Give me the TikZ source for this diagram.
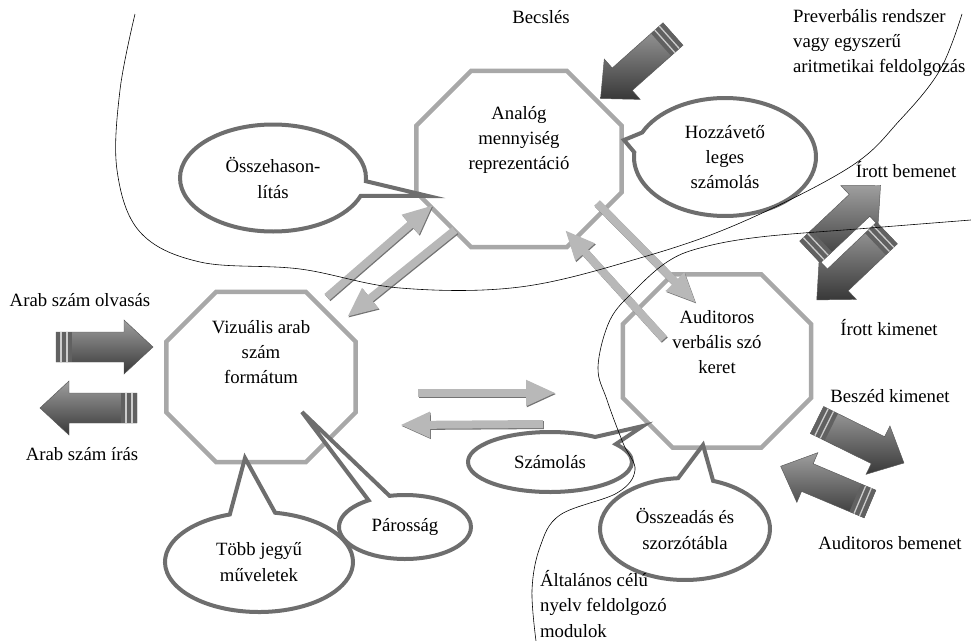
\documentclass[tikz,border=0pt]{standalone}
\usepackage{fontspec}
\setmainfont{Liberation Serif}
\usetikzlibrary{shapes.callouts,arrows.meta}
\newdimen\unitpx
\unitpx=0.03cm

\tikzset{
  module/.style={rectangle, inner sep=0pt},
  octline/.style={draw=black!34, line width=4.5\unitpx, line join=miter},
  bubble/.style={ellipse callout, draw=black!57, fill=white,
    line width=4\unitpx, inner sep=0pt, callout pointer arc=20},
  arrowbody/.style={draw=black!28, line width=8\unitpx,
    -{Triangle[width=0.72cm,length=0.9cm]}},
  arrowshadow/.style={draw=black!55, line width=8\unitpx,
    -{Triangle[width=0.72cm,length=0.9cm]},
    transform canvas={xshift=0.7pt,yshift=-0.9pt}},
  border/.style={black, line width=0.5pt},
  pics/blockarrow/.style={code={
    \shade[top color=black!38, bottom color=black!78, draw=black!65, line width=0.4pt]
      (0,-15) -- (68,-15) -- (68,-27) -- (97,0) -- (68,27) -- (68,15) -- (0,15) -- cycle;
    \fill[black!62] (0,-15) rectangle (16,15);
    \draw[black!20, line width=1.3\unitpx] (5,-15) -- (5,15) (11,-15) -- (11,15);
  }}
}

\begin{document}
\begin{tikzpicture}[x=0.03cm, y=-0.03cm,
    every node/.style={font=\fontsize{16}{21.5}\selectfont, align=center}]
  \useasboundingbox (0,0) rectangle (971,641);
  % Modules
  \node[module, minimum width=205\unitpx, minimum height=176\unitpx] (analog) at (519,159) {};
  \node[module, minimum width=189\unitpx, minimum height=170\unitpx] (vizual) at (261,377) {};
  \node[module, minimum width=188\unitpx, minimum height=173\unitpx] (audit) at (717,361) {};
  \foreach \n/\c in {analog/55, vizual/50, audit/50}
    \draw[octline] ([xshift=\c\unitpx]\n.north west) -- ([xshift=-\c\unitpx]\n.north east)
      -- ([yshift=-\c\unitpx]\n.north east) -- ([yshift=\c\unitpx]\n.south east)
      -- ([xshift=-\c\unitpx]\n.south east) -- ([xshift=\c\unitpx]\n.south west)
      -- ([yshift=\c\unitpx]\n.south west) -- ([yshift=-\c\unitpx]\n.north west) -- cycle;
  \node (analogtxt) at ([yshift=19\unitpx]analog.center) {Analóg\\mennyiség\\reprezentáció};
  \node (vizualtxt) at ([yshift=25\unitpx]vizual.center) {Vizuális arab\\szám\\formátum};
  \node (audittxt) at ([yshift=19\unitpx]audit.center) {Auditoros\\verbális szó\\keret};

  % Transfer arrows between the modules
  \coordinate (va1) at (327,297); \coordinate (va2) at (433,205);
  \coordinate (av1) at (455,230); \coordinate (av2) at (347,317);
  \coordinate (ad1) at (597,203); \coordinate (ad2) at (696,303);
  \coordinate (da1) at (664,339); \coordinate (da2) at (565,230);
  \coordinate (vd1) at (418,393); \coordinate (vd2) at (556,393);
  \coordinate (dv1) at (543,424); \coordinate (dv2) at (400,425);
  \foreach \s/\e in {va1/va2, av1/av2, ad1/ad2, da1/da2, vd1/vd2, dv1/dv2} {
    \draw[arrowshadow] (\s) -- (\e);
    \draw[arrowbody] (\s) -- (\e);
  }

  % Callouts
  \node[bubble, minimum width=186\unitpx, minimum height=107\unitpx, callout pointer arc=16,
    callout absolute pointer={(428,196)}] (compare) at (273,178) {Összehason-\\lítás};
  \node[bubble, minimum width=182\unitpx, minimum height=118\unitpx,
    callout absolute pointer={(624,140)}] (approx) at (725,157) {Hozzávető\\leges\\számolás};
  \node[bubble, minimum width=188\unitpx, minimum height=100\unitpx, callout pointer arc=28,
    callout absolute pointer={(245,458)}] (multi) at (259,562) {Több jegyű\\műveletek};
  \node[bubble, minimum width=132\unitpx, minimum height=64\unitpx,
    callout absolute pointer={(302,412)}] (parity) at (405,527) {Párosság};
  \node[bubble, minimum width=164\unitpx, minimum height=60\unitpx,
    callout absolute pointer={(643,426)}] (count) at (550,462) {Számolás};
  \node[bubble, minimum width=170\unitpx, minimum height=102\unitpx, callout pointer arc=24,
    callout absolute pointer={(703,445)}] (table) at (685,529) {Összeadás és\\szorzótábla};

  % Input and output arrows
  \pic (readar) [rotate=0] at (56,347) {blockarrow};
  \pic (writear) [rotate=180] at (137,408) {blockarrow};
  \pic (estim) [rotate=221.7] at (673,34) {blockarrow};
  \pic (wrin) [rotate=43.3] at (810,252) {blockarrow};
  \pic (wrout) [rotate=223.6] at (887,233) {blockarrow};
  \pic (spout) [rotate=-26.3] at (817,420) {blockarrow};
  \pic (audin) [rotate=157.1] at (870,504) {blockarrow};

  % System borders
  \draw[border] plot[smooth, tension=0.6] coordinates {(135,14) (120,90) (117,170) (140,232)
    (200,262) (300,269) (400,288) (520,287) (640,258) (740,223) (850,167) (900,120)
    (940,70) (962,14)};
  \draw[border] plot[smooth, tension=0.6] coordinates {(536,641) (532,590) (540,547)
    (560,515) (617,493) (635,470) (623,443) (607,400) (598,367) (610,320) (635,290)
    (667,262) (700,248) (760,237) (870,228) (971,220)};

  % Labels
  \node (estimlbl) at (541,17) {Becslés};
  \node[anchor=west, align=left] (prever) at (789,43)
    {Preverbális rendszer\\vagy egyszerű\\aritmetikai feldolgozás};
  \node (wrinlbl) at (906,170) {Írott bemenet};
  \node (wroutlbl) at (889,328) {Írott kimenet};
  \node (spoutlbl) at (890,396) {Beszéd kimenet};
  \node (audinlbl) at (890,543) {Auditoros bemenet};
  \node (readlbl) at (80,300) {Arab szám olvasás};
  \node (writelbl) at (82,454) {Arab szám írás};
  \node[anchor=west, align=left] (general) at (536,604)
    {Általános célú\\nyelv feldolgozó\\modulok};
\end{tikzpicture}
\end{document}
